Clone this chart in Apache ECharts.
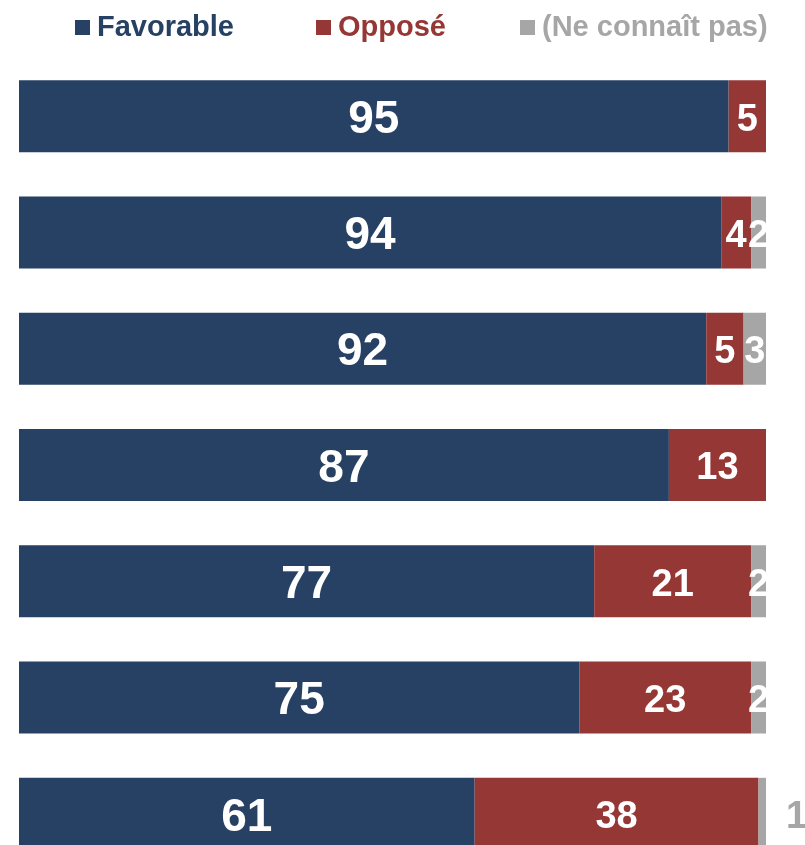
<!DOCTYPE html>
<html>
<head>
<meta charset="utf-8">
<script src="https://cdn.jsdelivr.net/npm/echarts@6/dist/echarts.min.js"></script>
<style>
html,body{margin:0;padding:0;background:#fff;}
#c{width:805px;height:845px;}
</style>
</head>
<body>
<div id="c"></div>
<script>
const categories = ['R1','R2','R3','R4','R5','R6','R7'];
const favorable = [95, 94, 92, 87, 77, 75, 61];
const oppose = [5, 4, 5, 13, 21, 23, 38];
const nsp = [0, 2, 3, 0, 2, 2, 1];
const seriesNames = ['Favorable', 'Opposé', '(Ne connaît pas)'];
const colors = ['#264163', '#953735', '#A6A6A6'];
const legendLeft = [70, 311, 515];

const chart = echarts.init(document.getElementById('c'));
const font = 'Liberation Sans, Arial, sans-serif';
const nz = p => (p.value ? String(p.value) : '');

chart.setOption({
  animation: false,
  legend: seriesNames.map((n, i) => ({
    left: legendLeft[i], top: 8,
    itemWidth: 15, itemHeight: 15,
    icon: 'rect',
    data: [{name: n}],
    textStyle: {color: colors[i], fontSize: 29, fontWeight: 'bold', fontFamily: font, padding: [0, 0, 0, 2]}
  })),
  grid: {left: 19, right: 39, top: 58, height: 814, outerBoundsMode: 'none', containLabel: false},
  xAxis: {type: 'value', min: 0, max: 100, show: false},
  yAxis: {type: 'category', data: categories, inverse: true, show: false},
  series: [
    {
      name: seriesNames[0], type: 'bar', stack: 's', barWidth: 72,
      itemStyle: {color: colors[0]}, data: favorable,
      label: {show: true, position: 'inside', offset: [0, 4], color: '#fff', fontSize: 46, fontWeight: 'bold', fontFamily: font, formatter: nz}
    },
    {
      name: seriesNames[1], type: 'bar', stack: 's', barWidth: 72,
      itemStyle: {color: colors[1]}, data: oppose,
      label: {show: true, position: 'inside', offset: [0, 4], color: '#fff', fontSize: 38, fontWeight: 'bold', fontFamily: font, formatter: nz}
    },
    {
      name: seriesNames[2], type: 'bar', stack: 's', barWidth: 72,
      itemStyle: {color: colors[2]},
      data: nsp.map((v, i) => i === nsp.length - 1
        ? {value: v, label: {position: 'right', distance: 20, color: '#A6A6A6'}}
        : v),
      label: {show: true, position: 'inside', offset: [0, 4], color: '#fff', fontSize: 38, fontWeight: 'bold', fontFamily: font, formatter: nz}
    }
  ]
});
</script>
</body>
</html>
